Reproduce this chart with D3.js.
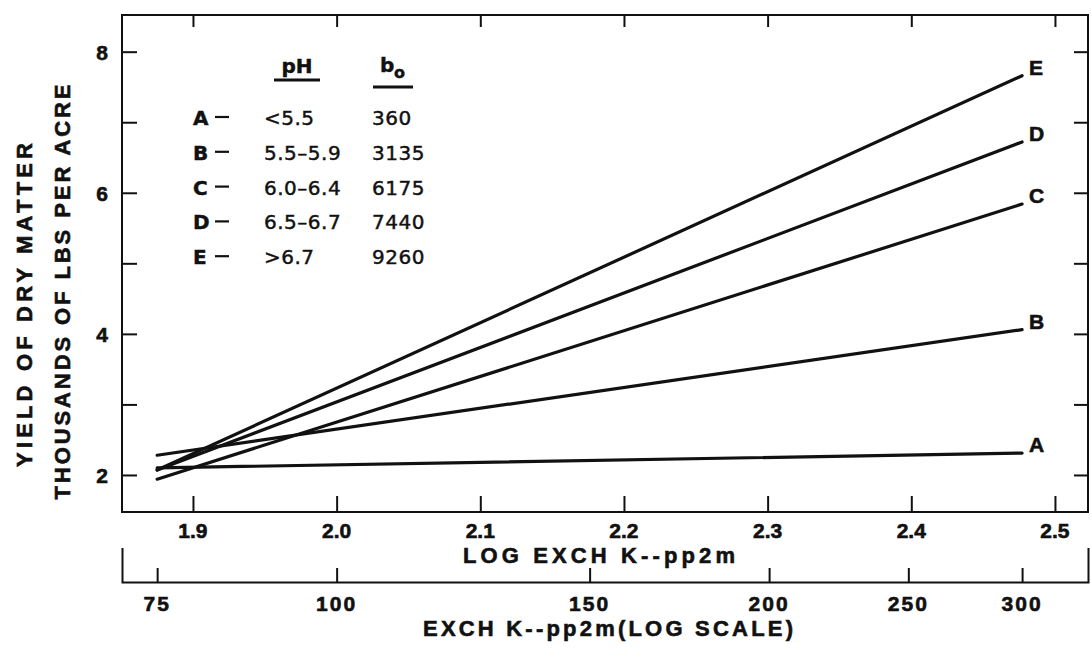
<!DOCTYPE html>
<html>
<head>
<meta charset="utf-8">
<script src="https://cdn.jsdelivr.net/npm/d3@7"></script>
<style>
  body{margin:0;background:#fff;}
  .lbl{font-family:"Liberation Sans",Arial,sans-serif;font-weight:bold;fill:#111;stroke:#111;stroke-width:0.6px;}
  .leg{font-family:"DejaVu Sans",sans-serif;fill:#111;stroke:#111;stroke-width:0.45px;}
</style>
</head>
<body>
<svg id="viz-svg" width="1091" height="655"></svg>
<script>
// curves: yield (thousand lbs/acre) at 75 and 300 ppm exch K
var curveIds = ["A","B","C","D","E"]
  , phRanges = ["<5.5","5.5\u20135.9","6.0\u20136.4","6.5\u20136.7",">6.7"]
  , b0Values = ["360","3135","6175","7440","9260"]
  , kFrom = [75,75,75,75,75]
  , kTo = [300,300,300,300,300]
  , yieldFrom = [2.10,2.28,1.94,2.07,2.07]
  , yieldTo = [2.31,4.06,5.84,6.72,7.66];

var logTicks = [1.9,2.0,2.1,2.2,2.3,2.4,2.5]
  , kTicks = [75,100,150,200,250,300]
  , yTicks = [2,3,4,5,6,7,8]
  , yLabels = [2,4,6,8];

var plotL = 122, plotR = 1088, plotT = 15, plotB = 512;

var svg = d3.select("#viz-svg");

var x = d3.scaleLinear().domain([1.8506,2.523]).range([plotL,plotR])
  , xk = d3.scaleLog().domain([Math.pow(10,1.8506),Math.pow(10,2.523)]).range([plotL,plotR])
  , y = d3.scaleLinear().domain([1.475,8.52]).range([plotB,plotT]);

// frame
svg.append("rect")
  .attr("x",plotL).attr("y",plotT)
  .attr("width",plotR-plotL).attr("height",plotB-plotT)
  .attr("fill","none").attr("stroke","#111").attr("stroke-width",2);

function styleAxis(g){
  g.select(".domain").remove();
  g.selectAll("line").attr("stroke","#111").attr("stroke-width",2);
  g.selectAll("text").remove();
}

svg.append("g").attr("transform","translate(0,"+plotB+")")
  .call(d3.axisBottom(x).tickValues(logTicks).tickSizeInner(-16).tickSizeOuter(0))
  .call(styleAxis);
svg.append("g").attr("transform","translate(0,"+plotT+")")
  .call(d3.axisTop(x).tickValues(logTicks).tickSizeInner(-12).tickSizeOuter(0))
  .call(styleAxis);
svg.append("g").attr("transform","translate("+plotL+",0)")
  .call(d3.axisLeft(y).tickValues(yTicks).tickSizeInner(-15).tickSizeOuter(0))
  .call(styleAxis);
svg.append("g").attr("transform","translate("+plotR+",0)")
  .call(d3.axisRight(y).tickValues(yTicks).tickSizeInner(-14).tickSizeOuter(0))
  .call(styleAxis);

// second (ppm) axis below
var kAxisY = 582;
svg.append("g").attr("transform","translate(0,"+kAxisY+")")
  .call(d3.axisBottom(xk).tickValues(kTicks).tickSizeInner(-14).tickSizeOuter(-34))
  .call(function(g){
    g.select(".domain").attr("stroke","#111").attr("stroke-width",2).attr("fill","none");
    g.selectAll("line").attr("stroke","#111").attr("stroke-width",2);
    g.selectAll("text").remove();
  });

// tick labels
svg.selectAll(".xlog-label").data(logTicks).enter().append("text")
  .attr("class","lbl")
  .attr("x",function(d){return x(d);})
  .attr("y",538)
  .attr("text-anchor","middle").attr("font-size",21)
  .text(function(d){return d.toFixed(1);});

svg.selectAll(".xk-label").data(kTicks).enter().append("text")
  .attr("class","lbl")
  .attr("x",function(d){return xk(d);})
  .attr("y",611)
  .attr("text-anchor","middle").attr("font-size",21)
  .attr("letter-spacing",2)
  .text(function(d){return d;});

svg.selectAll(".y-label").data(yLabels).enter().append("text")
  .attr("class","lbl")
  .attr("x",108)
  .attr("y",function(d){return y(d)+8;})
  .attr("text-anchor","end").attr("font-size",21)
  .text(function(d){return d;});

// axis titles
svg.append("text").attr("class","lbl")
  .attr("x",599).attr("y",563).attr("text-anchor","middle").attr("font-size",22)
  .attr("textLength",272).attr("lengthAdjust","spacing")
  .text("LOG EXCH K--pp2m");
svg.append("text").attr("class","lbl")
  .attr("x",608).attr("y",636).attr("text-anchor","middle").attr("font-size",22)
  .attr("textLength",370).attr("lengthAdjust","spacing")
  .text("EXCH K--pp2m(LOG SCALE)");
svg.append("text").attr("class","lbl")
  .attr("transform","translate(32,305) rotate(-90)")
  .attr("text-anchor","middle").attr("font-size",22)
  .attr("textLength",324).attr("lengthAdjust","spacing")
  .text("YIELD OF DRY MATTER");
svg.append("text").attr("class","lbl")
  .attr("transform","translate(70,292) rotate(-90)")
  .attr("text-anchor","middle").attr("font-size",22)
  .attr("textLength",415).attr("lengthAdjust","spacing")
  .text("THOUSANDS OF LBS PER ACRE");

// response lines
var curves = curveIds.map(function(id,i){
  return {id:id, x1:xk(kFrom[i]), y1:y(yieldFrom[i]), x2:xk(kTo[i]), y2:y(yieldTo[i])};
});

svg.selectAll(".curve").data(curves).enter().append("line")
  .attr("class","curve")
  .attr("x1",function(d){return d.x1;}).attr("y1",function(d){return d.y1;})
  .attr("x2",function(d){return d.x2;}).attr("y2",function(d){return d.y2;})
  .attr("stroke","#111").attr("stroke-width",3.2).attr("stroke-linecap","round");

svg.selectAll(".curve-label").data(curves).enter().append("text")
  .attr("class","lbl")
  .attr("x",function(d){return d.x2+7;})
  .attr("y",function(d){return d.y2-1;})
  .attr("font-size",21)
  .text(function(d){return d.id;});

// legend table
var legend = svg.append("g").attr("id","legend-container");
var rowY = function(i){return 125+i*34.8;};

legend.append("text").attr("class","leg")
  .attr("x",297).attr("y",73).attr("text-anchor","middle").attr("font-size",20).attr("font-weight","bold")
  .text("pH");
legend.append("line").attr("x1",274).attr("x2",320).attr("y1",80).attr("y2",80)
  .attr("stroke","#111").attr("stroke-width",3);
legend.append("text").attr("class","leg")
  .attr("x",380).attr("y",72).attr("font-size",20).attr("font-weight","bold")
  .text("b");
legend.append("text").attr("class","leg")
  .attr("x",394).attr("y",78).attr("font-size",16).attr("font-weight","bold")
  .text("o");
legend.append("line").attr("x1",373).attr("x2",413).attr("y1",87).attr("y2",87)
  .attr("stroke","#111").attr("stroke-width",3);

legend.selectAll(".leg-id").data(curveIds).enter().append("text")
  .attr("class","leg")
  .attr("x",193).attr("y",function(d,i){return rowY(i);})
  .attr("font-size",20).attr("font-weight","bold")
  .text(function(d){return d;});
legend.selectAll(".leg-dash").data(curveIds).enter().append("line")
  .attr("x1",215).attr("x2",229)
  .attr("y1",function(d,i){return rowY(i)-8;})
  .attr("y2",function(d,i){return rowY(i)-8;})
  .attr("stroke","#111").attr("stroke-width",2.2);
legend.selectAll(".leg-ph").data(phRanges).enter().append("text")
  .attr("class","leg")
  .attr("x",264).attr("y",function(d,i){return rowY(i);})
  .attr("font-size",20).attr("letter-spacing",0.5)
  .text(function(d){return d;});
legend.selectAll(".leg-b0").data(b0Values).enter().append("text")
  .attr("class","leg")
  .attr("x",372).attr("y",function(d,i){return rowY(i);})
  .attr("font-size",20).attr("letter-spacing",0.5)
  .text(function(d){return d;});
</script>
</body>
</html>
